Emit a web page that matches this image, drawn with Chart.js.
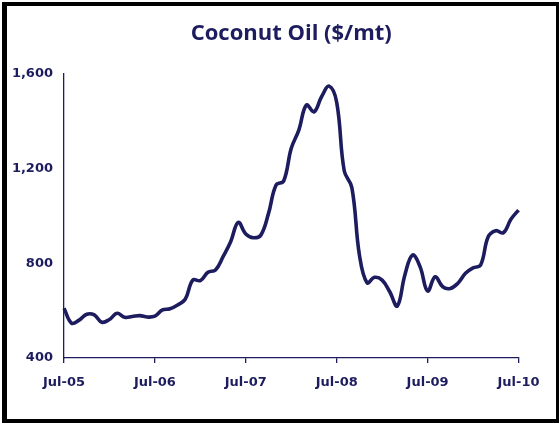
<!DOCTYPE html>
<html>
<head>
<meta charset="utf-8">
<script src="https://cdn.jsdelivr.net/npm/chart.js@4"></script>
<style>
  html, body { margin: 0; padding: 0; background: #fff; }
  #wrap { position: relative; width: 559px; height: 423px; }
  #chart { position: absolute; left: 0; top: 0; }
  #frame {
    position: absolute; left: 2px; top: 2px; width: 557px; height: 421px;
    box-sizing: border-box; pointer-events: none;
    border-style: solid; border-color: #000;
    border-width: 4px 3px 4px 5px;
  }
</style>
</head>
<body>
<div id="wrap">
  <canvas id="chart" width="559" height="423"></canvas>
  <div id="frame"></div>
</div>
<script>
const months = [
  'Jul-05','Aug-05','Sep-05','Oct-05','Nov-05','Dec-05','Jan-06','Feb-06','Mar-06','Apr-06','May-06','Jun-06',
  'Jul-06','Aug-06','Sep-06','Oct-06','Nov-06','Dec-06','Jan-07','Feb-07','Mar-07','Apr-07','May-07','Jun-07',
  'Jul-07','Aug-07','Sep-07','Oct-07','Nov-07','Dec-07','Jan-08','Feb-08','Mar-08','Apr-08','May-08','Jun-08',
  'Jul-08','Aug-08','Sep-08','Oct-08','Nov-08','Dec-08','Jan-09','Feb-09','Mar-09','Apr-09','May-09','Jun-09',
  'Jul-09','Aug-09','Sep-09','Oct-09','Nov-09','Dec-09','Jan-10','Feb-10','Mar-10','Apr-10','May-10','Jun-10',
  'Jul-10'
];

// $/mt
const coconutOil = [
  610, 547, 560, 585, 582, 551, 563, 589, 572, 575, 579, 573,
  577, 603, 608, 624, 648, 729, 727, 762, 772, 828, 891, 973,
  924, 908, 920, 1011, 1131, 1148, 1286, 1363, 1469, 1440, 1504, 1549,
  1480, 1190, 1120, 835, 718, 741, 729, 680, 620, 751, 835, 786,
  683, 743, 701, 694, 716, 758, 781, 793, 912, 938, 929, 986,
  1025
];

const yTicks = [400, 800, 1200, 1600];

const navy = '#1c1c5e';
const labelFont = { family: 'DejaVu Sans', weight: 'bold', size: 13 };

const ctx = document.getElementById('chart').getContext('2d');
new Chart(ctx, {
  type: 'line',
  data: {
    labels: months,
    datasets: [{
      data: coconutOil,
      borderColor: navy,
      borderWidth: 3.6,
      pointRadius: 0,
      tension: 0.4,
      fill: false
    }]
  },
  options: {
    responsive: false,
    animation: false,
    layout: { padding: { left: 0, right: 40.5, top: 0, bottom: 0 } },
    plugins: {
      legend: { display: false },
      tooltip: { enabled: false },
      title: {
        display: true,
        fullSize: false,
        text: 'Coconut Oil ($/mt)',
        color: navy,
        font: { family: 'Open Sans', weight: 'bold', size: 22 },
        padding: { top: 21, bottom: 26.6 }
      }
    },
    scales: {
      x: {
        offset: false,
        grid: {
          display: true,
          drawOnChartArea: false,
          drawTicks: true,
          tickLength: 5,
          lineWidth: 1.3,
          tickColor: c => (c.index % 12 === 0 ? navy : 'rgba(0,0,0,0)')
        },
        border: { display: true, color: navy, width: 1.3 },
        ticks: {
          autoSkip: false,
          maxRotation: 0,
          padding: 12,
          color: navy,
          font: labelFont,
          callback: function (v, i) { return i % 12 === 0 ? months[i] : ''; }
        },
        afterFit: s => { s.height = 65; }
      },
      y: {
        min: yTicks[0],
        max: yTicks[yTicks.length - 1],
        afterBuildTicks: s => { s.ticks = yTicks.map(v => ({ value: v })); },
        grid: { display: false, drawTicks: false },
        border: { display: true, color: navy, width: 1.3 },
        ticks: {
          padding: 11,
          color: navy,
          font: labelFont,
          callback: v => v.toLocaleString('en-US')
        },
        afterFit: s => { s.width = 64; }
      }
    }
  }
});
</script>
</body>
</html>
